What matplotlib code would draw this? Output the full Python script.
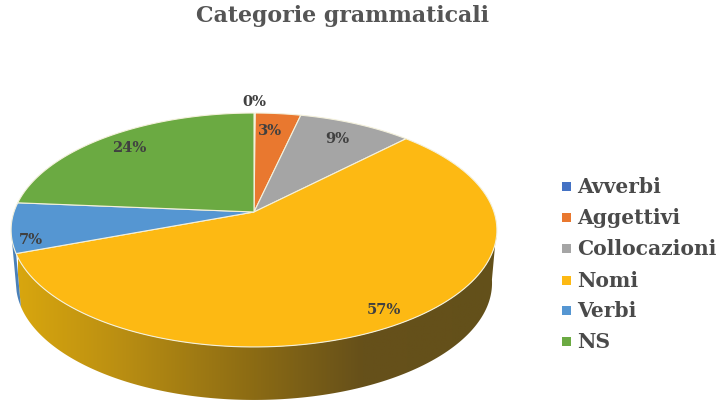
import numpy as np
import matplotlib
matplotlib.use('Agg')
import matplotlib.pyplot as plt
from matplotlib.colors import LinearSegmentedColormap
from matplotlib.patches import Polygon, Rectangle

categories = ['Avverbi', 'Aggettivi', 'Collocazioni', 'Nomi', 'Verbi', 'NS']
values = [0.1, 3.5, 8.8, 57.0, 6.9, 23.7]
labels = ['0%', '3%', '9%', '57%', '7%', '24%']
colors = ['#4472C4', '#E9782F', '#A5A5A5', '#FDB913', '#5596D2', '#6BAA42']

# perspective of the pie disc, in pixels
cx, cy = 254, 213
rx, ry, k = 240, 114.2, 0.1538
depth = 53
shrink = 0.98


def project(frac, lower=False):
    a = 2 * np.pi * np.asarray(frac)
    u, v = np.sin(a), np.cos(a)
    w = 1 + k * v
    x = cx + rx * u / w
    y = cy - ry * v / w
    if lower:
        x = cx + (x - cx) * shrink
        y = y + depth
    return x, y


fig = plt.figure(figsize=(7.19, 4.02), dpi=100)
ax = fig.add_axes([0, 0, 1, 1])
ax.axis('off')

edges = np.concatenate([[0], np.cumsum(values)]) / sum(values)

# side wall of Nomi with the gradient, blue sliver of Verbi
nomi_t = np.linspace(0.27, edges[4], 200)
xa, ya = project(nomi_t)
xb, yb = project(nomi_t[::-1], lower=True)
wall = Polygon(np.c_[np.r_[xa, xb], np.r_[ya, yb]], closed=True, fc='none', ec='none')
ax.add_patch(wall)
side_cmap = LinearSegmentedColormap.from_list(
    'side', [(0, '#D8A60E'), (0.2, '#BC9012'), (0.5, '#8A6A14'), (0.72, '#66501A'), (1, '#63501A')])
grad = ax.imshow(np.linspace(0, 1, 256)[None, :], cmap=side_cmap, aspect='auto',
                 extent=(18, 497, 402, 200), zorder=1)
grad.set_clip_path(wall)
ax.set_xlim(0, 719)
ax.set_ylim(402, 0)

verbi_t = np.linspace(edges[4], edges[4] + 0.02, 30)
xa, ya = project(verbi_t)
xb, yb = project(verbi_t[::-1], lower=True)
ax.fill(np.r_[xa, xb], np.r_[ya, yb], color='#4A80B8', lw=0, zorder=1)

# top face
for i, val in enumerate(values):
    t = np.linspace(edges[i], edges[i + 1], 120)
    x, y = project(t)
    ax.fill(np.r_[cx, x], np.r_[cy, y], fc=colors[i], ec='#F4F1DC', lw=0.8, zorder=2)

# data labels
label_pos = [(254, 102), (270, 131), (337, 139), (384, 310), (31, 240), (129, 148)]
for lab, (lx, ly) in zip(labels, label_pos):
    ax.text(lx, ly, lab, ha='center', va='center', family='DejaVu Serif', weight='bold',
            fontsize=10.5, color='#404040', zorder=3)

ax.text(342, 16, 'Categorie grammaticali', ha='center', va='center', family='DejaVu Serif',
        weight='bold', fontsize=15.9, color='#555555')

# legend
leg_y = [187, 218, 249, 281, 311, 342]
for name, col, ly in zip(categories, colors, leg_y):
    ax.add_patch(Rectangle((562, ly - 4.5), 9, 9, fc=col, ec='none'))
    ax.text(577, ly, name, ha='left', va='center', family='DejaVu Serif', weight='bold',
            fontsize=14.6, color='#4a4a4a')

fig.savefig('out.png', dpi=100)
